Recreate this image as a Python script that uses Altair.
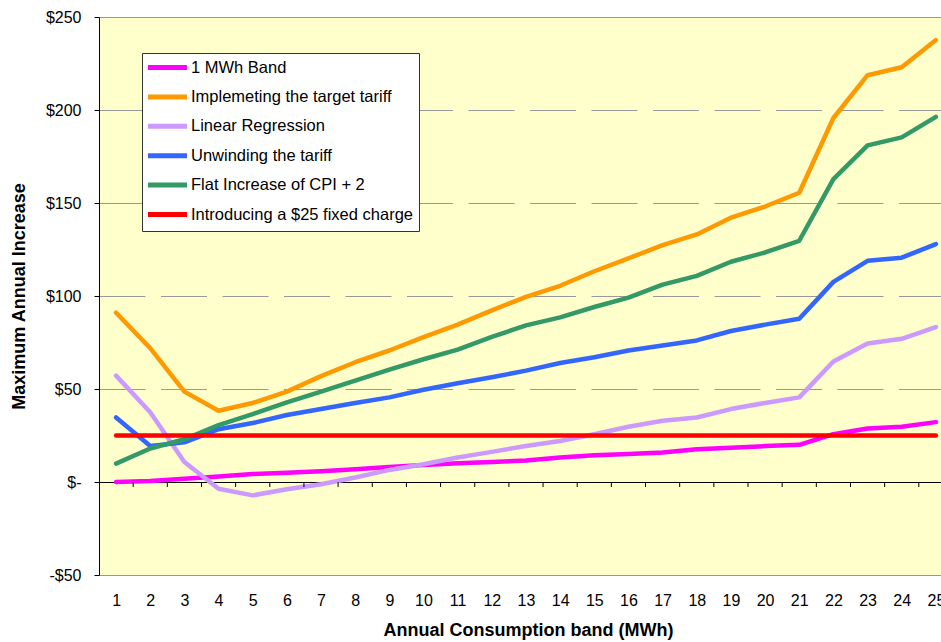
import altair as alt
import pandas as pd

# Annual consumption bands (MWh)
bands = list(range(1, 26))

series_names = [
    "1 MWh Band",
    "Implemeting the target tariff",
    "Linear Regression",
    "Unwinding the tariff",
    "Flat Increase of CPI + 2",
    "Introducing a $25 fixed charge",
]
series_colors = ["#FF00FF", "#FF9900", "#CC99FF", "#3366FF", "#339966", "#FF0000"]

# Maximum annual increase ($) per band for each scenario
one_mwh_band = [0, 0.5, 1.8, 2.9, 4.3, 5.0, 5.8, 6.8, 8.1, 9.2, 10.1, 10.8, 11.5,
                13.2, 14.4, 15.0, 15.9, 17.6, 18.4, 19.3, 20.0, 25.7, 28.8, 29.7, 32.2]
target_tariff = [91, 72, 48.6, 38.3, 42.5, 48.6, 56.9, 64.4, 70.7, 77.9, 84.6, 92.3, 99.5,
                 105.5, 113.3, 120.2, 127.4, 133.1, 142.1, 148.1, 155.5, 195.7, 218.7, 223.0, 237.6]
linear_regression = [57.2, 37.5, 10.8, -3.6, -7.2, -3.9, -1.2, 2.4, 6.5, 9.5, 13.2, 16.2, 19.4,
                     22.0, 25.7, 29.7, 32.9, 34.7, 39.2, 42.5, 45.5, 64.8, 74.5, 77.0, 83.3]
unwinding = [34.7, 19.4, 21.3, 28.4, 31.7, 36.0, 39.2, 42.5, 45.5, 49.6, 53.1, 56.3, 59.9,
             64.0, 67.1, 70.7, 73.4, 76.1, 81.2, 84.6, 87.8, 107.6, 118.9, 120.6, 127.9]
flat_cpi = [9.9, 18.0, 23.0, 30.6, 36.5, 42.8, 48.6, 54.5, 60.4, 66.0, 71.2, 78.0, 84.2,
            88.5, 94.1, 99.1, 106.1, 110.8, 118.4, 123.4, 129.7, 162.8, 181.0, 185.3, 196.3]
fixed_charge = [25, 25, 25, 25, 25, 25, 25, 25, 25, 25, 25, 25, 25,
                25, 25, 25, 25, 25, 25, 25, 25, 25, 25, 25, 25]

# Category boundaries where the zero-line tick marks sit
band_edges = [1.5, 2.5, 3.5, 4.5, 5.5, 6.5, 7.5, 8.5, 9.5, 10.5, 11.5, 12.5,
              13.5, 14.5, 15.5, 16.5, 17.5, 18.5, 19.5, 20.5, 21.5, 22.5, 23.5, 24.5]

y_ticks = [-50, 0, 50, 100, 150, 200, 250]

all_series = [one_mwh_band, target_tariff, linear_regression, unwinding, flat_cpi, fixed_charge]
rows = []
for name, values in zip(series_names, all_series):
    for band, v in zip(bands, values):
        rows.append({"series": name, "band": band, "value": v})
df = pd.DataFrame(rows)
edges_df = pd.DataFrame({"band": band_edges})

FONT = "Liberation Sans"
x_scale = alt.Scale(domain=[0.5, 25.15], nice=False, zero=False)
y_scale = alt.Scale(domain=[-50, 250], nice=False, zero=False)

label_expr = ("datum.value == 0 ? '$-\u00a0\u00a0\u00a0\u00a0' : "
              "(datum.value < 0 ? '-$' + abs(datum.value) : '$' + datum.value)")

x_axis = alt.Axis(
    values=bands,
    title="Annual Consumption band (MWh)",
    domain=False,
    ticks=False,
    grid=False,
    labelPadding=17,
    labelFlush=False,
    labelOverlap=False,
    labelBound=False,
    titleX=429,
    titleAlign="center",
    titlePadding=13,
)

# wide, flat legend swatch: a short path stretched horizontally keeps rows compact
swatch_path = "M-3.5,0L3.5,0"

lines = alt.Chart(df).mark_line(
    strokeWidth=4.5, strokeCap="round", strokeJoin="round", clip=True
).encode(
    x=alt.X("band:Q", scale=x_scale, axis=x_axis),
    y=alt.Y(
        "value:Q",
        scale=y_scale,
        axis=alt.Axis(
            values=y_ticks,
            labelExpr=label_expr,
            title="Maximum Annual Increase",
            tickSize=5,
            tickColor="black",
            domainColor="black",
            labelPadding=13,
            titlePadding=17,
            grid=True,
            gridWidth=1,
            gridDash={
                "condition": {"test": "datum.value == 0 || datum.value == 250 || datum.value == -50",
                              "value": []},
                "value": [46, 15.5],
            },
            gridColor={
                "condition": {"test": "datum.value == 0", "value": "#000000"},
                "value": "#999999",
            },
        ),
    ),
    color=alt.Color(
        "series:N",
        scale=alt.Scale(domain=series_names, range=series_colors),
        legend=alt.Legend(
            title=None,
            orient="none",
            legendX=43,
            legendY=36,
            fillColor="white",
            strokeColor="#333333",
            padding=6,
            symbolType=swatch_path,
            symbolStrokeWidth=5,
            symbolSize=124,
            symbolOffset=11,
            labelFont=FONT,
            labelFontSize=16.5,
            labelColor="black",
            labelLimit=400,
            labelOffset=15,
            rowPadding=8.4,
        ),
    ),
)

zero_ticks = alt.Chart(edges_df).mark_rule(color="black", strokeWidth=1).encode(
    x=alt.X("band:Q", scale=x_scale, axis=x_axis),
    y=alt.datum(0),
    y2=alt.datum(-2.7),
)

chart = (
    alt.layer(lines, zero_ticks)
    .properties(
        width=842,
        height=558,
        padding={"left": 99, "top": 17, "right": 0, "bottom": 67},
        autosize="none",
        background="white",
    )
    .configure_view(fill="#FFFFCC", strokeWidth=0)
    .configure_axis(
        labelFont=FONT,
        labelFontSize=16,
        labelColor="black",
        titleFont=FONT,
        titleFontSize=18,
        titleFontWeight="bold",
        titleColor="black",
    )
)

chart.save("out.html", embed_options={"renderer": "svg", "actions": False})
